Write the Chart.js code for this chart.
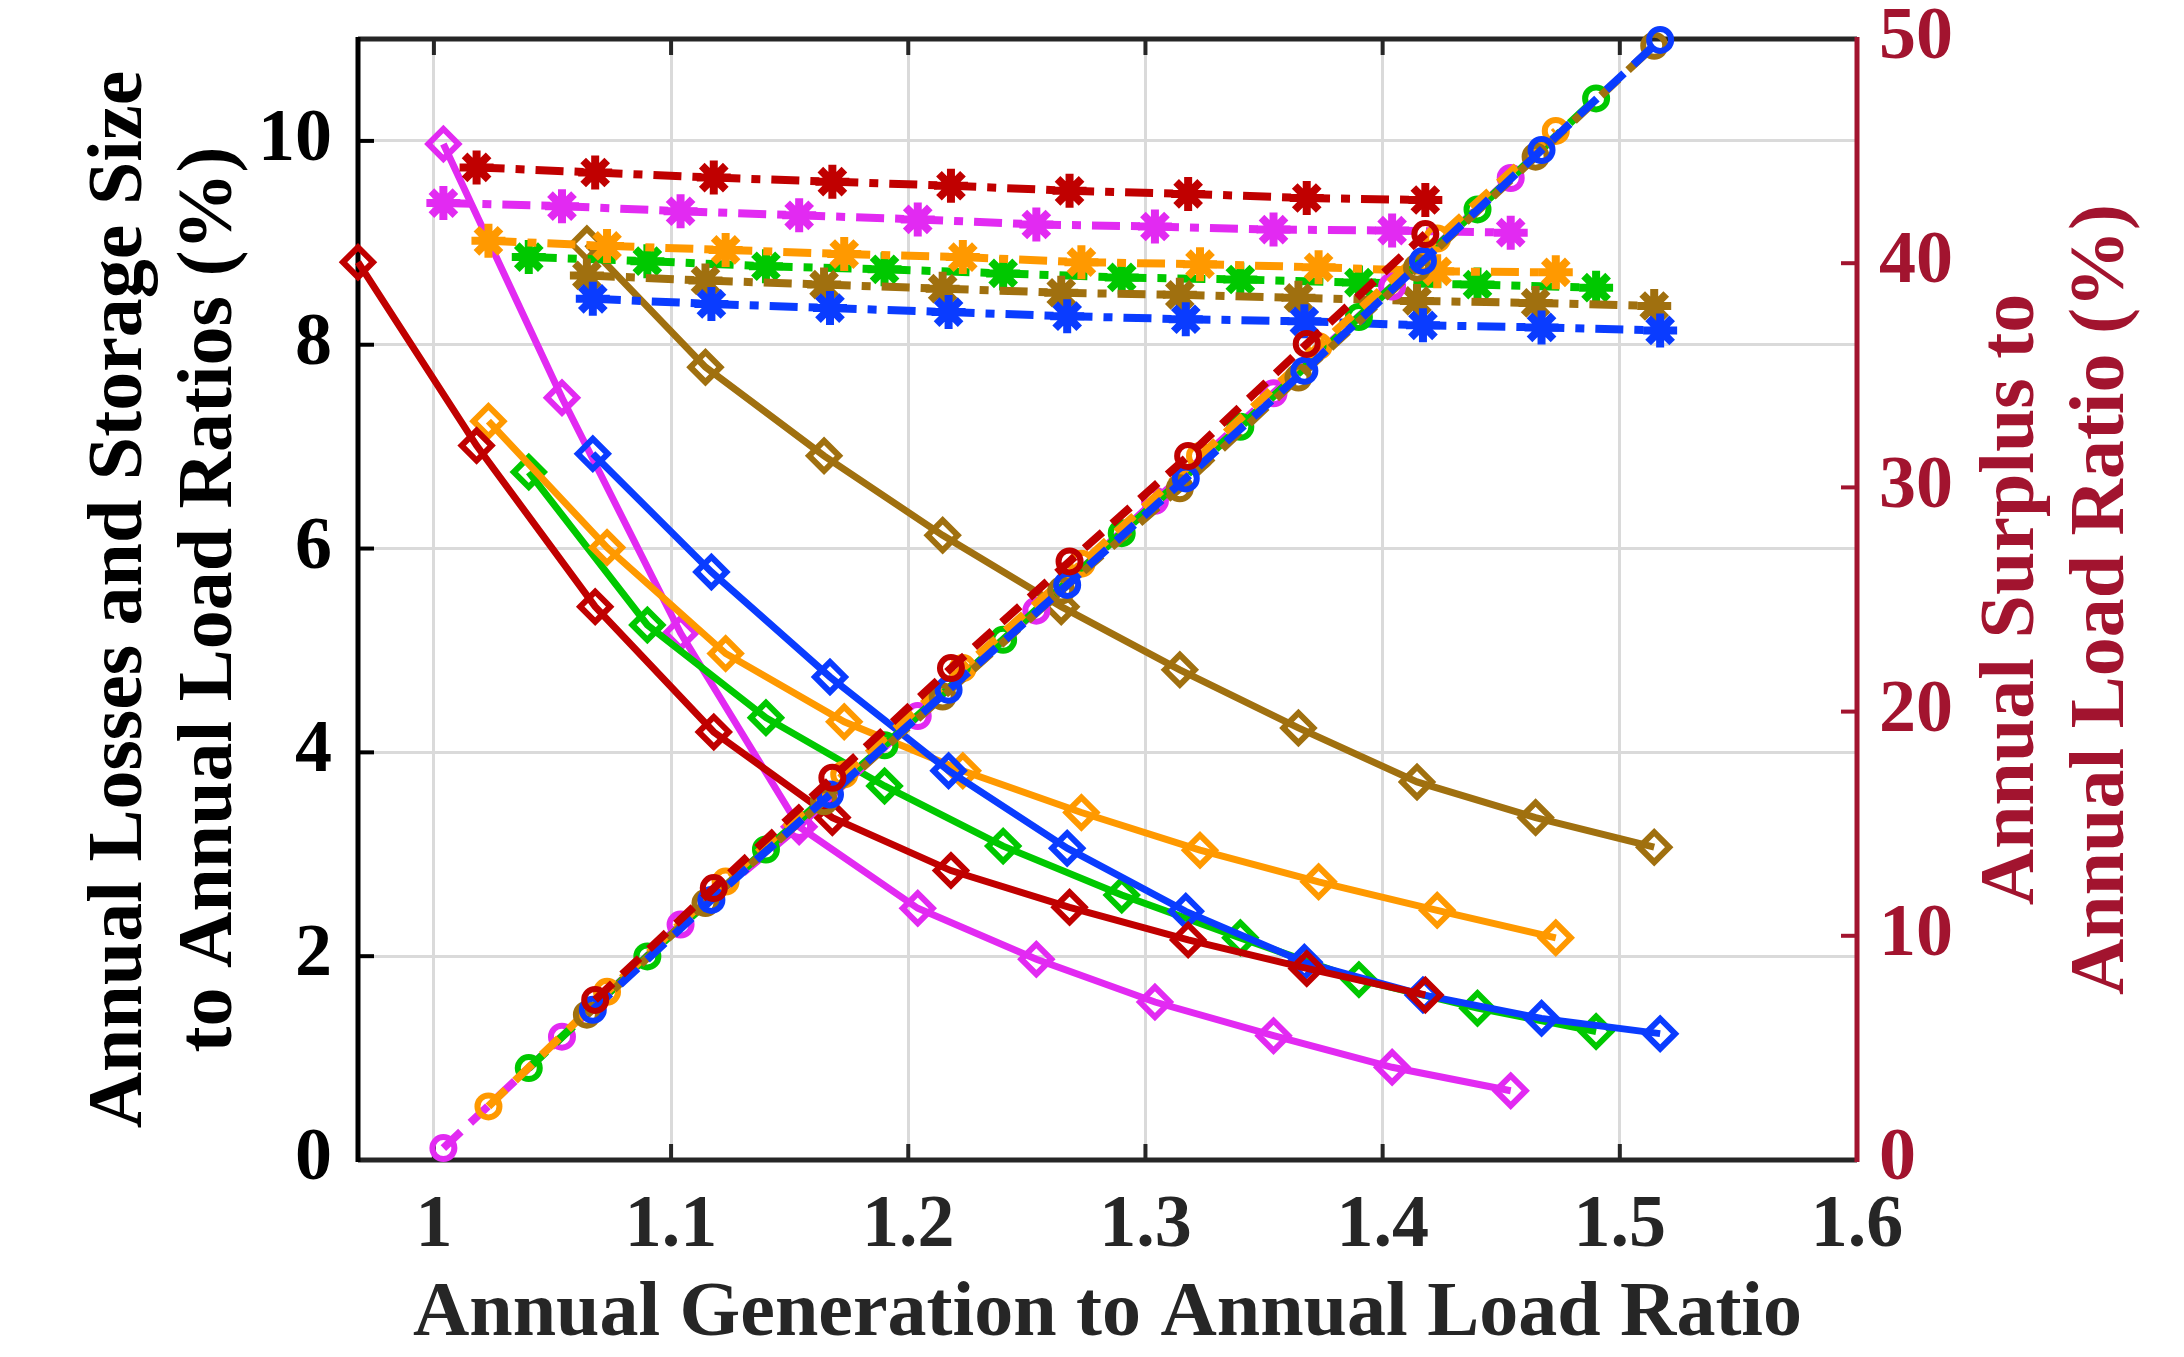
<!DOCTYPE html>
<html>
<head>
<meta charset="utf-8">
<title>Annual Generation to Annual Load Ratio</title>
<script src="https://cdn.jsdelivr.net/npm/chart.js@4.4.1/dist/chart.umd.min.js"></script>
<style>
  html, body { margin: 0; padding: 0; background: #fff; }
  #chart { display: block; }
</style>
</head>
<body>
<canvas id="chart" width="2184" height="1357"></canvas>
<script>
// Axes
const xTicks = [1, 1.1, 1.2, 1.3, 1.4, 1.5, 1.6];
const xTickLabels = ['1', '1.1', '1.2', '1.3', '1.4', '1.5', '1.6'];
const leftTicks = [0, 2, 4, 6, 8, 10];
const rightTicks = [0, 10, 20, 30, 40, 50];

const xTitle = 'Annual Generation to Annual Load Ratio';
const leftTitle = ['Annual Losses and Storage Size', 'to Annual Load Ratios (%)'];
const rightTitle = ['Annual Surplus to', 'Annual Load Ratio (%)'];

// Red
const redX = [0.968, 1.018, 1.068, 1.118, 1.168, 1.218, 1.268, 1.318, 1.368, 1.418];
const redLosses = [8.81, 7.01, 5.43, 4.20, 3.36, 2.84, 2.48, 2.16, 1.88, 1.62];
const redStorage = [null, 9.74, 9.69, 9.64, 9.60, 9.56, 9.51, 9.48, 9.44, 9.42];
const redSurplus = [null, null, 7.14, 12.13, 17.05, 21.94, 26.7, 31.4, 36.4, 41.3];

// Magenta
const magentaX = [1.004, 1.054, 1.104, 1.154, 1.204, 1.254, 1.304, 1.354, 1.404, 1.454];
const magentaLosses = [9.97, 7.48, 5.17, 3.27, 2.47, 1.97, 1.55, 1.22, 0.91, 0.68];
const magentaStorage = [9.39, 9.36, 9.31, 9.27, 9.23, 9.18, 9.16, 9.13, 9.12, 9.10];
const magentaSurplus = [0.53, 5.5, 10.5, 14.9, 19.8, 24.5, 29.4, 34.2, 38.96, 43.8];

// Orange
const orangeX = [1.023, 1.073, 1.123, 1.173, 1.223, 1.273, 1.323, 1.373, 1.423, 1.473];
const orangeLosses = [7.25, 6.01, 4.97, 4.30, 3.82, 3.41, 3.04, 2.73, 2.45, 2.18];
const orangeStorage = [9.02, 8.97, 8.93, 8.89, 8.86, 8.81, 8.79, 8.76, 8.72, 8.71];
const orangeSurplus = [2.39, 7.5, 12.42, 17.2, 21.94, 26.6, 31.4, 36.3, 41.1, 45.9];

// Green
const greenX = [1.040, 1.090, 1.140, 1.190, 1.240, 1.290, 1.340, 1.390, 1.440, 1.490];
const greenLosses = [6.75, 5.25, 4.34, 3.67, 3.08, 2.60, 2.18, 1.77, 1.49, 1.26];
const greenStorage = [8.86, 8.82, 8.77, 8.74, 8.70, 8.66, 8.64, 8.61, 8.59, 8.56];
const greenSurplus = [4.1, 9.08, 13.85, 18.5, 23.2, 27.96, 32.7, 37.6, 42.4, 47.35];

// Brown
const brownX = [1.0645, 1.1145, 1.1645, 1.2145, 1.2645, 1.3145, 1.3645, 1.4145, 1.4645, 1.5145];
const brownLosses = [8.99, 7.78, 6.91, 6.13, 5.43, 4.81, 4.24, 3.71, 3.36, 3.07];
const brownStorage = [8.68, 8.63, 8.59, 8.55, 8.51, 8.49, 8.46, 8.43, 8.41, 8.38];
const brownSurplus = [6.48, 11.46, 16.0, 20.67, 25.4, 29.96, 34.9, 39.8, 44.75, 49.7];

// Blue
const blueX = [1.067, 1.117, 1.167, 1.217, 1.267, 1.317, 1.367, 1.417, 1.467, 1.517];
const blueLosses = [6.93, 5.77, 4.74, 3.82, 3.06, 2.44, 1.94, 1.62, 1.39, 1.24];
const blueStorage = [8.45, 8.40, 8.36, 8.32, 8.28, 8.25, 8.23, 8.19, 8.17, 8.14];
const blueSurplus = [6.7, 11.6, 16.3, 20.97, 25.65, 30.4, 35.2, 40.1, 45.05, 49.96];

const rightColor = '#A2142F';
const axisGray = '#262626';
const FONT = 'Liberation Serif, Times New Roman, serif';

const groups = [
  { color: '#C00000', x: redX, losses: redLosses, storage: redStorage, surplus: redSurplus },
  { color: '#0A3CFF', x: blueX, losses: blueLosses, storage: blueStorage, surplus: blueSurplus },
  { color: '#A0700F', x: brownX, losses: brownLosses, storage: brownStorage, surplus: brownSurplus },
  { color: '#FF9900', x: orangeX, losses: orangeLosses, storage: orangeStorage, surplus: orangeSurplus },
  { color: '#00C800', x: greenX, losses: greenLosses, storage: greenStorage, surplus: greenSurplus },
  { color: '#E22AF2', x: magentaX, losses: magentaLosses, storage: magentaStorage, surplus: magentaSurplus }
];

function pts(xs, ys) {
  return xs.map((x, i) => ({ x: x, y: ys[i] })).filter(p => p.y !== null);
}

// dataset 0 is drawn last (on top): surplus, then storage, then losses
const datasets = [];
groups.forEach(g => datasets.push({
  data: pts(g.x, g.surplus), yAxisID: 'y2', borderColor: g.color, borderWidth: 8, borderDash: [24, 13],
  pointStyle: 'circle', pointRadius: 11, pointBorderWidth: 6, pointBorderColor: g.color, pointBackgroundColor: 'rgba(0,0,0,0)'
}));
groups.forEach(g => datasets.push({
  data: pts(g.x, g.storage), yAxisID: 'y', borderColor: g.color, borderWidth: 8, borderDash: [28, 11, 9, 11],
  pointStyle: 'star', pointRadius: 17, pointBorderWidth: 8, pointBorderColor: g.color, pointBackgroundColor: g.color
}));
groups.forEach(g => datasets.push({
  data: pts(g.x, g.losses), yAxisID: 'y', borderColor: g.color, borderWidth: 7,
  pointStyle: 'rectRot', pointRadius: 15, pointBorderWidth: 6, pointBorderColor: g.color, pointBackgroundColor: 'rgba(0,0,0,0)'
}));
datasets.forEach(d => { d.clip = false; d.tension = 0; d.fill = false; });

const axisFrame = {
  id: 'axisFrame',
  beforeDatasetsDraw(chart) {
    const { ctx, chartArea: a, scales } = chart;
    const seg = (x1, y1, x2, y2) => { ctx.beginPath(); ctx.moveTo(x1, y1); ctx.lineTo(x2, y2); ctx.stroke(); };
    ctx.save();
    ctx.setLineDash([]);
    ctx.lineWidth = 4;
    ctx.strokeStyle = axisGray;
    xTicks.forEach(v => {
      const px = scales.x.getPixelForValue(v);
      seg(px, a.bottom, px, a.bottom - 16);
      seg(px, a.top, px, a.top + 16);
    });
    ctx.strokeStyle = '#000';
    leftTicks.forEach(v => { const py = scales.y.getPixelForValue(v); seg(a.left, py, a.left + 16, py); });
    ctx.strokeStyle = rightColor;
    rightTicks.forEach(v => { const py = scales.y2.getPixelForValue(v); seg(a.right, py, a.right - 16, py); });

    ctx.lineWidth = 5;
    ctx.strokeStyle = axisGray;
    seg(a.left, a.top, a.right, a.top);
    seg(a.left, a.bottom, a.right, a.bottom);
    ctx.strokeStyle = '#000';
    seg(a.left, a.top - 2, a.left, a.bottom + 2);
    ctx.strokeStyle = rightColor;
    seg(a.right, a.top - 2, a.right, a.bottom + 2);
    ctx.restore();
  },
  afterDraw(chart) {
    // right title reads bottom-to-top like the left one
    const { ctx, chartArea: a } = chart;
    ctx.save();
    ctx.fillStyle = rightColor;
    ctx.font = 'bold 78px ' + FONT;
    ctx.textAlign = 'center';
    ctx.textBaseline = 'alphabetic';
    ctx.translate(a.right + 176, (a.top + a.bottom) / 2);
    ctx.rotate(-Math.PI / 2);
    rightTitle.forEach((line, i) => ctx.fillText(line, 0, i * 90));
    ctx.restore();
  }
};

// keep the plot box where the reference has it: no extra label padding
function noPad(s) { s.paddingTop = 0; s.paddingBottom = 0; s.paddingLeft = 0; s.paddingRight = 0; }

const tickFont = { family: FONT, weight: 'bold', size: 74, lineHeight: 1.2 };

new Chart(document.getElementById('chart'), {
  type: 'line',
  data: { datasets: datasets },
  plugins: [axisFrame],
  options: {
    responsive: false,
    animation: false,
    devicePixelRatio: 1,
    layout: { padding: { top: 39, left: 0, right: 0, bottom: 0 } },
    plugins: { legend: { display: false }, tooltip: { enabled: false } },
    scales: {
      x: {
        type: 'linear', min: 0.968, max: 1.6,
        afterBuildTicks: s => { s.ticks = xTicks.map(v => ({ value: v })); },
        afterFit: s => { s.height = 197; noPad(s); },
        grid: { color: '#dadada', lineWidth: 3, drawTicks: false },
        border: { display: false },
        ticks: { autoSkip: false, maxRotation: 0, padding: 22, color: axisGray, font: tickFont,
          callback: (v, i) => xTickLabels[i] },
        title: { display: true, text: xTitle, color: axisGray, padding: { top: 0, bottom: 3 },
          font: { family: FONT, weight: 'bold', size: 78, lineHeight: 1 } }
      },
      y: {
        type: 'linear', position: 'left', min: 0, max: 11,
        afterBuildTicks: s => { s.ticks = leftTicks.map(v => ({ value: v })); },
        afterFit: s => { s.width = 358; noPad(s); },
        grid: { color: '#dadada', lineWidth: 3, drawTicks: false },
        border: { display: false },
        ticks: { padding: 26, color: '#000', font: tickFont, callback: v => String(v) },
        title: { display: true, text: leftTitle, color: '#000', padding: { top: 76, bottom: 0 },
          font: { family: FONT, weight: 'bold', size: 78, lineHeight: 1.154 } }
      },
      y2: {
        type: 'linear', position: 'right', min: 0, max: 50,
        afterBuildTicks: s => { s.ticks = rightTicks.map(v => ({ value: v })); },
        afterFit: s => { s.width = 327; noPad(s); },
        grid: { display: false, drawTicks: false },
        border: { display: false },
        ticks: { padding: 22, color: rightColor, font: tickFont, callback: v => String(v) }
      }
    }
  }
});
</script>
</body>
</html>
